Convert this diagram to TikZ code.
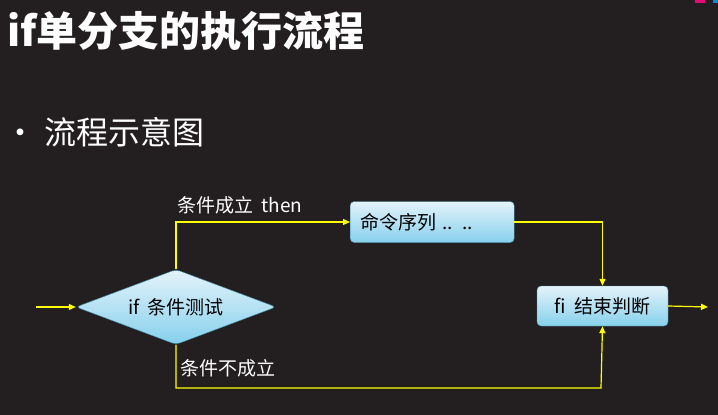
\documentclass[tikz,border=0pt]{standalone}
\usepackage{fontspec}
\setmainfont{Noto Sans CJK SC}
\usetikzlibrary{shapes.geometric,arrows.meta}
\definecolor{bg}{HTML}{231F20}
\definecolor{boxtop}{HTML}{E4F3FA}
\definecolor{boxbot}{HTML}{86D0EC}
\definecolor{boxline}{HTML}{3E8FA8}
\definecolor{ylw}{HTML}{FFFF00}
\tikzset{
  fbox/.style={draw=boxline,rounded corners=4pt,top color=boxtop,bottom color=boxbot,text=black,font=\fontsize{19}{22}\selectfont,inner sep=0pt},
  flow/.style={draw=ylw,line width=1.2pt,-{Triangle[length=7pt,width=6pt]}},
  lbl/.style={text=white,font=\fontsize{19}{22}\selectfont,inner sep=0pt,anchor=west}
}
\begin{document}
\begin{tikzpicture}[x=1pt,y=-1pt]
\fill[bg] (0,0) rectangle (718,415);
\useasboundingbox (0,0) rectangle (718,415);
\fill[magenta!80!red] (695,0) rectangle (705,3);
\fill[cyan!70!blue] (713,0) rectangle (718,3);
\node[anchor=west,text=white,font=\fontsize{41}{46}\selectfont\bfseries,inner sep=0pt] (title) at (7,31) {if单分支的执行流程};
\node[anchor=west,text=white,font=\fontsize{32}{36}\selectfont,inner sep=0pt] (bul) at (4,132) {•\hspace{8pt}流程示意图};
\node[fbox,diamond,aspect=2.67,minimum width=200pt,minimum height=75pt] (d) at (176,307) {if\ \ 条件测试};
\node[fbox,minimum width=164pt,minimum height=41pt,anchor=west,text width=150pt,align=left] (c) at (350,222) {\hspace{3pt}命令序列 .. ..};
\node[fbox,minimum width=131pt,minimum height=40pt] (f) at (602.5,306) {fi\ \ 结束判断};
\coordinate (in) at (36,307);
\coordinate (out) at (708,307);
\draw[flow] (in) -- (d.west);
\draw[flow] (d.north) |- (c.west);
\draw[flow] (c.east) -| (f.north);
\draw[flow] (d.south) |- (601,388) -- (f.south);
\draw[flow] (f.east) -- (out);
\node[lbl] (l1) at (177,205) {条件成立\ \ then};
\node[lbl] (l2) at (180,368) {条件不成立};
\end{tikzpicture}
\end{document}
